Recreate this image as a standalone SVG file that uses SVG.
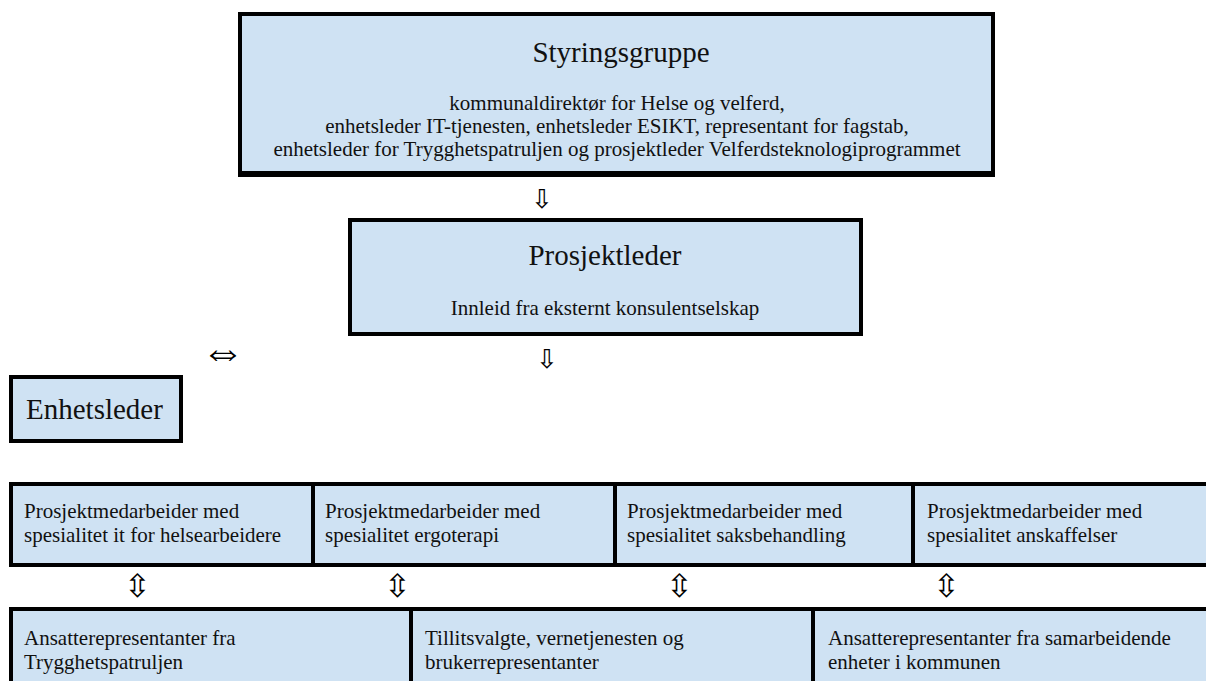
<svg xmlns="http://www.w3.org/2000/svg" width="1206" height="681" viewBox="0 0 1206 681">
<style>
.box{fill:#cfe2f3;stroke:#000;stroke-width:4}
.div{stroke:#000;stroke-width:4}
.t{font-family:"Liberation Serif","Times New Roman",serif;fill:#111}
.h{font-size:29px}
.s{font-size:21px}
.c{text-anchor:middle}
.ar{font-family:"DejaVu Sans",sans-serif;font-weight:200;fill:#000;text-anchor:middle}
.dn{font-size:26px}
.ud{font-size:32px}
.lr{font-size:44px}
</style>
<rect width="1206" height="681" fill="#fff"/>
<g id="styringsgruppe">
<rect class="box" x="240" y="14" width="753" height="161"/>
<line x1="238" y1="172" x2="995" y2="172" stroke="#000" stroke-width="2"/>
<text class="t h c" x="621" y="62">Styringsgruppe</text>
<text class="t s c" x="617" y="110">kommunaldirektør for Helse og velferd,</text>
<text class="t s c" x="617" y="133">enhetsleder IT-tjenesten, enhetsleder ESIKT, representant for fagstab,</text>
<text class="t s c" x="617" y="156">enhetsleder for Trygghetspatruljen og prosjektleder Velferdsteknologiprogrammet</text>
</g>
<g id="prosjektleder">
<rect class="box" x="350" y="220" width="511" height="114"/>
<text class="t h c" x="605" y="265">Prosjektleder</text>
<text class="t s c" x="605" y="315">Innleid fra eksternt konsulentselskap</text>
</g>
<g id="enhetsleder">
<rect class="box" x="11" y="377" width="170" height="64"/>
<text class="t h" x="26" y="419">Enhetsleder</text>
</g>
<g id="rad1">
<rect class="box" x="11" y="484" width="1200" height="81"/>
<line class="div" x1="313" y1="484" x2="313" y2="565"/>
<line class="div" x1="615" y1="484" x2="615" y2="565"/>
<line class="div" x1="913" y1="484" x2="913" y2="565"/>
</g>
<g id="pm-it">
<text class="t s" x="24" y="518">Prosjektmedarbeider med</text>
<text class="t s" x="24" y="542">spesialitet it for helsearbeidere</text>
</g>
<g id="pm-ergo">
<text class="t s" x="325" y="518">Prosjektmedarbeider med</text>
<text class="t s" x="325" y="542">spesialitet ergoterapi</text>
</g>
<g id="pm-saks">
<text class="t s" x="627" y="518">Prosjektmedarbeider med</text>
<text class="t s" x="627" y="542">spesialitet saksbehandling</text>
</g>
<g id="pm-anskaff">
<text class="t s" x="927" y="518">Prosjektmedarbeider med</text>
<text class="t s" x="927" y="542">spesialitet anskaffelser</text>
</g>
<g id="rad2">
<rect class="box" x="11" y="609" width="1200" height="80"/>
<line class="div" x1="411" y1="609" x2="411" y2="681"/>
<line class="div" x1="813" y1="609" x2="813" y2="681"/>
</g>
<g id="ansatte-trygghet">
<text class="t s" x="24" y="645">Ansatterepresentanter fra</text>
<text class="t s" x="24" y="669">Trygghetspatruljen</text>
</g>
<g id="tillitsvalgte">
<text class="t s" x="425" y="645">Tillitsvalgte, vernetjenesten og</text>
<text class="t s" x="425" y="669">brukerrepresentanter</text>
</g>
<g id="ansatte-samarbeid">
<text class="t s" x="828" y="645">Ansatterepresentanter fra samarbeidende</text>
<text class="t s" x="828" y="669">enheter i kommunen</text>
</g>
<g id="connectors">
<text class="ar dn" x="542" y="208">⇩</text>
<text class="ar dn" x="547" y="368">⇩</text>
<text class="ar lr" x="223" y="366">⇔</text>
<text class="ar ud" x="137" y="597">⇳</text>
<text class="ar ud" x="397" y="597">⇳</text>
<text class="ar ud" x="679" y="597">⇳</text>
<text class="ar ud" x="946" y="597">⇳</text>
</g>
</svg>
